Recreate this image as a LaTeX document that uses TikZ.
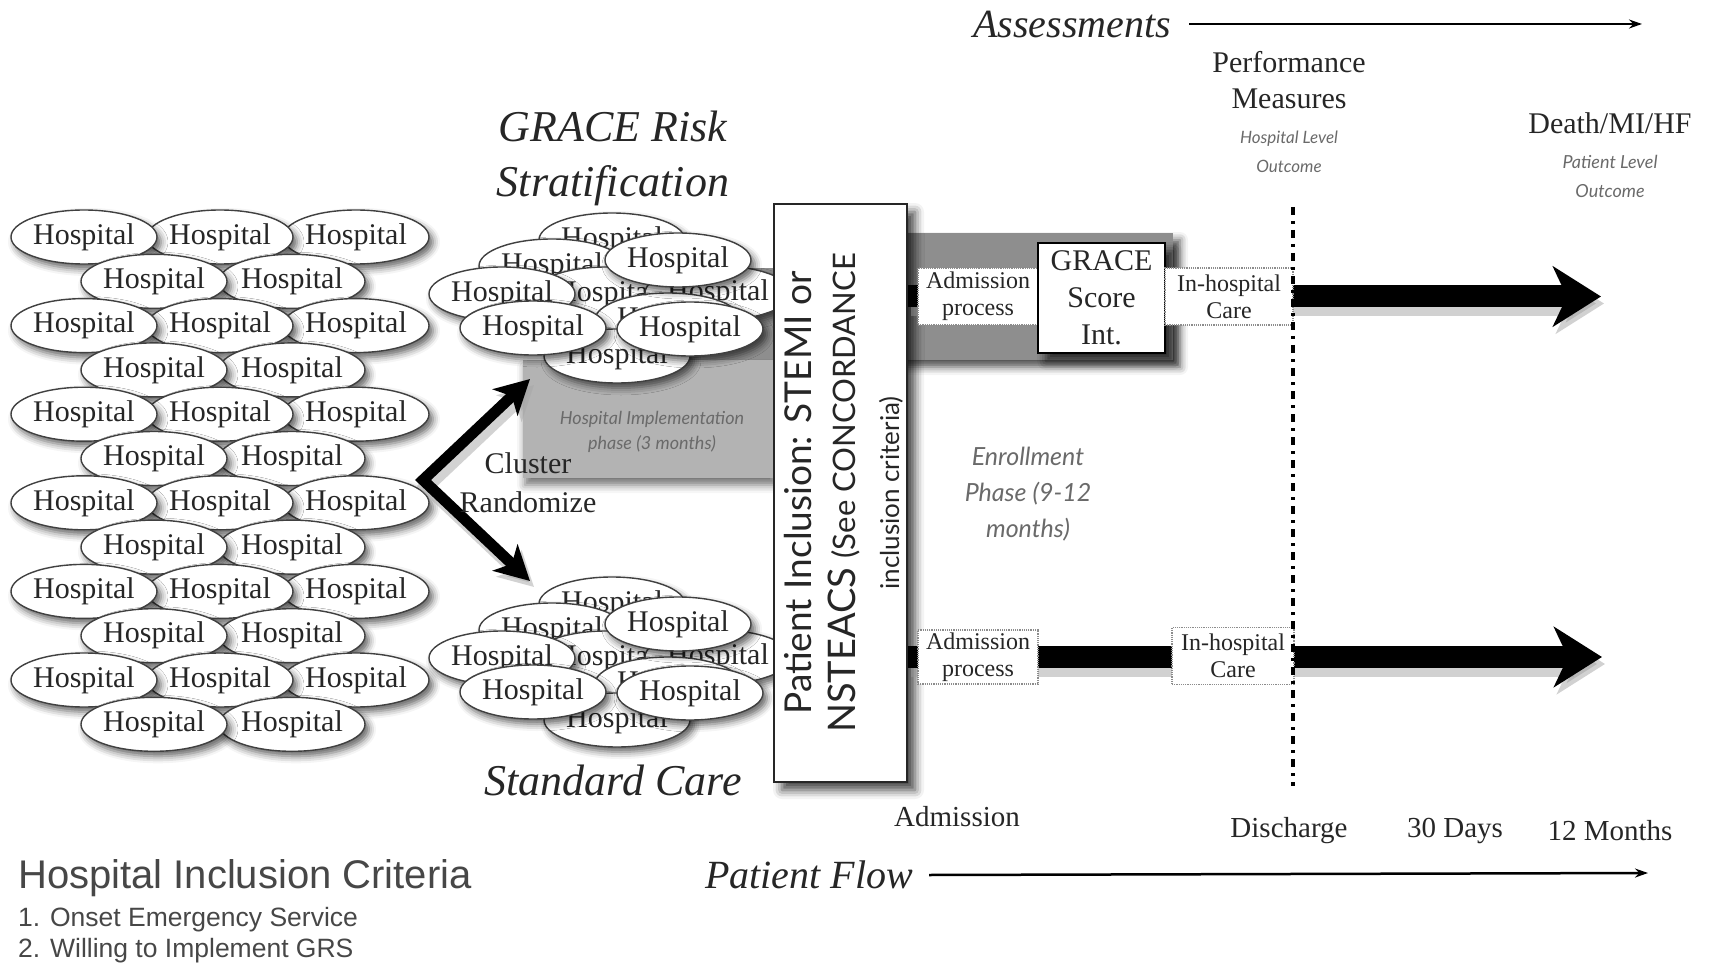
\documentclass[tikz,border=0pt]{standalone}
\usepackage{fontspec}
\setmainfont{Liberation Serif}
\newfontfamily\gillfont{Lato}
\newfontfamily\helvfont{Liberation Sans}
\usetikzlibrary{shapes.geometric,arrows.meta,shadows.blur}
\newcommand\fsz[2]{\fontsize{#1}{#2}\selectfont}
\definecolor{bandgray}{HTML}{8E8E8E}
\definecolor{implgray}{HTML}{B3B3B3}
\definecolor{inkgray}{HTML}{262626}
\definecolor{softgray}{HTML}{6A6A6A}

\begin{document}
\begin{tikzpicture}[x=1pt,y=-1pt,
  hosp/.style={ellipse, draw=black!75, line width=1.4pt, fill=white,
    minimum width=146pt, minimum height=54pt, inner sep=0pt, text=inkgray,
    font=\fsz{30}{32},
    blur shadow={shadow xshift=4pt, shadow yshift=-5pt, shadow blur radius=7pt, shadow opacity=62}},
  txt/.style={inner sep=0pt, text=inkgray, align=center},
  graybox/.style={rectangle, inner sep=0pt, draw=none},
  lanebox/.style={rectangle, draw=black!45, densely dotted, line width=1.2pt, fill=white,
    inner sep=0pt, text=inkgray, align=center, font=\fsz{24}{27}},
  heavyshadow/.style={blur shadow={shadow xshift=8pt, shadow yshift=-8pt, shadow blur radius=9pt, shadow opacity=75}},
  lanearrow/.style={line width=22pt, -{Stealth[length=48pt,width=60pt,inset=14pt]}},
  forkarrow/.style={line width=11pt, line join=miter,
    {Stealth[length=34pt,width=36pt,inset=9pt]}-{Stealth[length=34pt,width=36pt,inset=9pt]}},
  thinarrow/.style={line width=2.5pt, -{Stealth[length=13pt,width=9pt]}},
  dashline/.style={line width=4.5pt, dash pattern=on 8pt off 6pt on 3pt off 6pt}
]
\useasboundingbox (0,0) rectangle (1711,968);

% ---- grey phase bands ----
\node[graybox, fill=bandgray, minimum width=293pt, minimum height=127pt,
  blur shadow={shadow xshift=7pt, shadow yshift=-7pt, shadow blur radius=8pt, shadow opacity=70}]
  (gband) at (1026.5,296.5) {};
\node[graybox, fill=bandgray, minimum width=150pt, minimum height=92pt] (gbandL) at (715,314) {};
\node[graybox, fill=implgray, minimum width=251pt, minimum height=118pt,
  blur shadow={shadow xshift=2pt, shadow yshift=-7pt, shadow blur radius=8pt, shadow opacity=55}]
  (impl) at (648.5,419) {};
\node[txt, text=softgray, font=\gillfont\itshape\fsz{18}{25}] (impltext) at (652,432)
  {Hospital Implementation\\phase (3 months)};

% ---- participating hospitals ----
\foreach \r in {0,...,11} {
  \pgfmathsetmacro\ry{237+44.3*\r}
  \ifodd\r
    \foreach \c/\cx in {2/292,1/154} {
      \node[hosp] (L\r-\c) at (\cx,\ry) {Hospital};
    }
  \else
    \foreach \c/\cx in {3/356,2/220,1/84} {
      \node[hosp] (L\r-\c) at (\cx,\ry) {Hospital};
    }
  \fi
}

% ---- randomisation fork ----
\coordinate (forkv) at (423,480);
\coordinate (forku) at (530,379);
\coordinate (forkd) at (530,581);
\begin{scope}[transform canvas={xshift=4pt, yshift=-6pt}]
  \draw[forkarrow, black!35, opacity=0.5, line width=14pt] (forku) -- (forkv) -- (forkd);
\end{scope}
\draw[forkarrow] (forku) -- (forkv) -- (forkd);
\node[txt, font=\fsz{30}{39}] (cluster) at (528,483) {Cluster\\Randomize};

% ---- the two hospital arms ----
\foreach \cy/\tg in {0/a,364/b} {
  \foreach \i/\px/\py in {1/612/240, 2/552/266, 3/606/294, 4/718/293, 5/668/320,
                          6/617/356, 7/502/294, 8/678/260, 9/533/328, 10/690/329} {
    \node[hosp] (M\tg\i) at (\px,\py+\cy) {Hospital};
  }
}
\node[txt, font=\itshape\fsz{44}{55}] (gracetitle) at (613,158) {GRACE Risk\\Stratification};
\node[txt, font=\itshape\fsz{44}{55}] (stdtitle) at (613,780) {Standard Care};

% ---- patient inclusion ----
\node[rectangle, draw=black!85, line width=2pt, fill=white, minimum width=133pt,
  minimum height=578pt, inner sep=0pt, heavyshadow] (pbox) at (840.5,493) {};
\node[txt, rotate=90, text=black!85, font=\gillfont\fsz{37}{44}] (ptext) at ([xshift=3pt]pbox.center)
  {Patient Inclusion: STEMI or\\
   {\fsz{38}{44}NSTEACS} {\fsz{31}{44}(See CONCORDANCE}\\
   {\fsz{26}{40}inclusion criteria)}};

% ---- patient pathway, intervention arm ----
\node[lanebox, minimum width=120pt, minimum height=57pt] (adm1) at (978,296.5) {Admission\\process};
\node[rectangle, draw=black, line width=1.8pt, fill=white, minimum width=127pt, minimum height=110pt,
  inner sep=0pt, text=inkgray, align=center, font=\fsz{30}{37}, heavyshadow]
  (grace) at (1101.5,298) {GRACE\\Score\\Int.};
\node[lanebox, minimum width=128pt, minimum height=57pt] (inh1) at (1229,296.5) {In-hospital\\Care};
\coordinate (end1) at (1601,296.5);

% ---- patient pathway, control arm ----
\node[lanebox, minimum width=120pt, minimum height=54pt] (adm2) at (978,657) {Admission\\process};
\node[lanebox, minimum width=122pt, minimum height=57pt] (inh2) at (1233,656) {In-hospital\\Care};
\coordinate (end2) at (1602,657);

\begin{scope}[transform canvas={xshift=3pt, yshift=-7pt}]
  \draw[lanearrow, black!40, opacity=0.45, line width=26pt] (pbox.east |- adm1.west) -- (end1);
  \draw[lanearrow, black!40, opacity=0.45, line width=26pt] (pbox.east |- adm2.west) -- (end2);
\end{scope}
\draw[lanearrow] (pbox.east |- adm1.west) -- (end1);
\draw[lanearrow] (pbox.east |- adm2.west) -- (end2);
% boxes redrawn on top of the shafts
\node[lanebox, minimum width=120pt, minimum height=57pt] at (adm1.center) {Admission\\process};
\node[rectangle, draw=black, line width=1.8pt, fill=white, minimum width=127pt, minimum height=110pt,
  inner sep=0pt, text=inkgray, align=center, font=\fsz{30}{37}] at (grace.center) {GRACE\\Score\\Int.};
\node[lanebox, minimum width=128pt, minimum height=57pt] at (inh1.center) {In-hospital\\Care};
\node[lanebox, minimum width=120pt, minimum height=54pt] at (adm2.center) {Admission\\process};
\node[lanebox, minimum width=122pt, minimum height=57pt] at (inh2.center) {In-hospital\\Care};

% ---- discharge marker ----
\coordinate (dtop) at (1293,207);
\coordinate (dbot) at (1293,786);
\draw[dashline] (dtop) -- (dbot);

% ---- enrolment phase ----
\node[txt, text=softgray, font=\gillfont\itshape\fsz{25}{36}] (enrol) at (1028,494)
  {Enrollment\\Phase (9-12\\months)};

% ---- assessments ----
\node[txt, font=\itshape\fsz{40}{44}] (assess) at (1072,24) {Assessments};
\coordinate (assessend) at (1642,24);
\draw[thinarrow] ([xshift=18pt]assess.east) -- (assessend);
\node[txt, font=\fsz{30}{36}] (perf) at (1289,80) {Performance\\Measures};
\node[txt, text=softgray, font=\gillfont\itshape\fsz{17}{29}] (perfsub) at (1289,152) {Hospital Level\\Outcome};
\node[txt, font=\fsz{30}{36}] (death) at (1610,123) {Death/MI/HF};
\node[txt, text=softgray, font=\gillfont\itshape\fsz{18}{29}] (deathsub) at (1610,176) {Patient Level\\Outcome};

% ---- time line ----
\node[txt, font=\fsz{29}{32}] (tadm) at (957,817) {Admission};
\node[txt, font=\fsz{29}{32}] (tdis) at (1289,831) {Discharge};
\node[txt, font=\fsz{29}{32}] (t30) at (1455,831) {30 Days};
\node[txt, font=\fsz{29}{32}] (t12) at (1610,831) {12 Months};
\node[txt, font=\itshape\fsz{40}{44}] (pflow) at (809,875) {Patient Flow};
\coordinate (pflowend) at (1648,873);
\draw[thinarrow] ([xshift=16pt]pflow.east) -- (pflowend);

% ---- hospital criteria ----
\node[txt, anchor=west, text=black!72, font=\helvfont\fsz{40}{42}] (crit) at (18,878) {Hospital Inclusion Criteria};
\node[txt, anchor=west, text=black!72, font=\helvfont\fsz{26.5}{28}] (crit1) at (18,920) {1. Onset Emergency Service};
\node[txt, anchor=west, text=black!72, font=\helvfont\fsz{26.5}{28}] (crit2) at (18,951) {2. Willing to Implement GRS};
\end{tikzpicture}
\end{document}
